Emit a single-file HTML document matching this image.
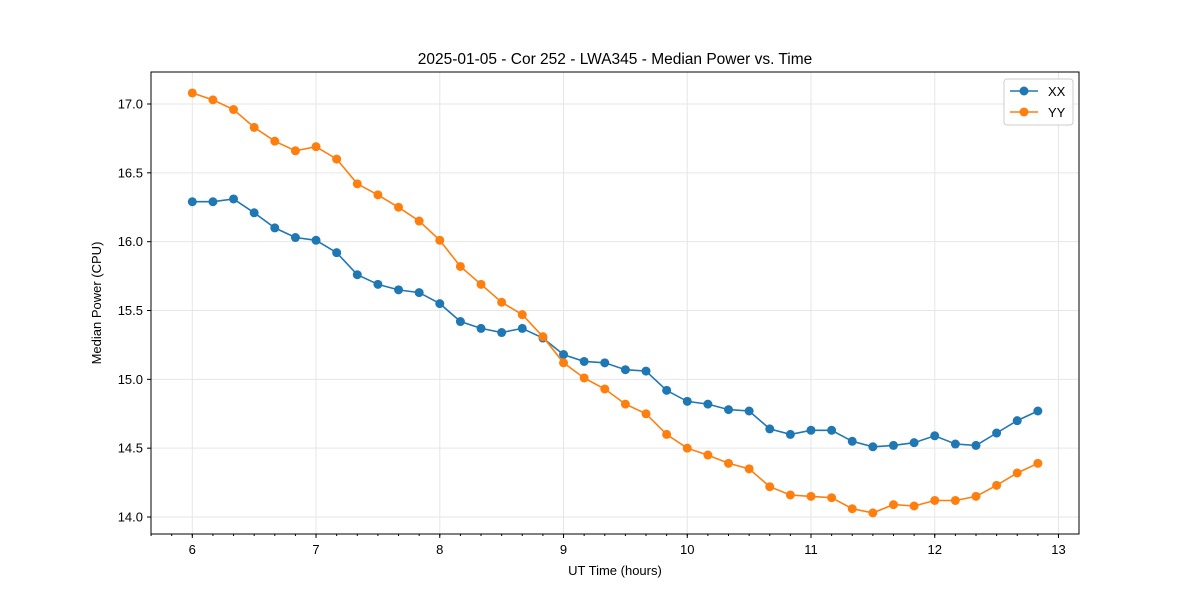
<!DOCTYPE html>
<html><head><meta charset="utf-8"><style>body{margin:0;background:#fff}svg{font-family:"Liberation Sans","DejaVu Sans",sans-serif}</style></head>
<body>
<svg id="c" width="1200" height="600"></svg>
<script>
const xxValues=[16.29,16.29,16.31,16.21,16.10,16.03,16.01,15.92,15.76,15.69,15.65,15.63,15.55,15.42,15.37,15.34,15.37,15.30,15.18,15.13,15.12,15.07,15.06,14.92,14.84,14.82,14.78,14.77,14.64,14.60,14.63,14.63,14.55,14.51,14.52,14.54,14.59,14.53,14.52,14.61,14.70,14.77];
const yyValues=[17.08,17.03,16.96,16.83,16.73,16.66,16.69,16.60,16.42,16.34,16.25,16.15,16.01,15.82,15.69,15.56,15.47,15.31,15.12,15.01,14.93,14.82,14.75,14.60,14.50,14.45,14.39,14.35,14.22,14.16,14.15,14.14,14.06,14.03,14.09,14.08,14.12,14.12,14.15,14.23,14.32,14.39];
const startHour=6, stepHour=1/6;
const xTicks=[6,7,8,9,10,11,12,13];
const yTicks=[14.0,14.5,15.0,15.5,16.0,16.5,17.0];
const L=151,R=1079,T=72,B=534;
const X=v=>192.3+(v-6)*123.74;
const Y=v=>104+(17-v)*137.67;
const s=document.getElementById('c'),NS='http://www.w3.org/2000/svg';
function add(tag,a,txt){const e=document.createElementNS(NS,tag);for(const k in a)e.setAttribute(k,a[k]);if(txt!=null)e.textContent=txt;s.appendChild(e);return e;}
xTicks.forEach(t=>{
 let g=add('line',{x1:X(t),x2:X(t),y1:T,y2:B,stroke:'#e6e6e6','stroke-width':1});
 
 let k=add('line',{x1:X(t),x2:X(t),y1:B,y2:B+4,stroke:'#000'});
 
 let l=add('text',{x:X(t),y:B+20,'text-anchor':'middle','font-size':13},String(t));
 
});
for(let m=5+4/6;m<13.2;m+=1/6){const px=X(m);if(px<L||px>R)continue;
 let k=add('line',{x1:px,x2:px,y1:B,y2:B+2,stroke:'#000'});
 }
yTicks.forEach(t=>{
 let g=add('line',{x1:L,x2:R,y1:Y(t),y2:Y(t),stroke:'#e6e6e6','stroke-width':1});
 
 let k=add('line',{x1:L-4,x2:L,y1:Y(t),y2:Y(t),stroke:'#000'});
 
 let l=add('text',{x:L-8,y:Y(t)+4.5,'text-anchor':'end','font-size':13},t.toFixed(1));
 
});
function series(vals,color,name){
 const pts=vals.map((v,i)=>X(startHour+i*stepHour).toFixed(1)+','+Y(v).toFixed(1)).join(' ');
 let p=add('polyline',{points:pts,fill:'none',stroke:color,'stroke-width':1.6});
 
 vals.forEach((v,i)=>{let c=add('circle',{cx:X(startHour+i*stepHour),cy:Y(v),r:4.5,fill:color});
 });
}
series(xxValues,'#1f77b4','xx');
series(yyValues,'#ff7f0e','yy');
let fr=add('rect',{x:L,y:T,width:R-L,height:B-T,fill:'none',stroke:'#000','stroke-width':1});

let ti=add('text',{x:615,y:64,'text-anchor':'middle','font-size':15.5},'2025-01-05 - Cor 252 - LWA345 - Median Power vs. Time');

let xt=add('text',{x:615,y:575,'text-anchor':'middle','font-size':13},'UT Time (hours)');

let yt=add('text',{x:101,y:303,'text-anchor':'middle','font-size':13,transform:'rotate(-90 101 303)'},'Median Power (CPU)');

let lg=add('rect',{x:1004,y:79,width:69,height:46,rx:3,fill:'#fff',stroke:'#ccc'});

[['XX','#1f77b4',91],['YY','#ff7f0e',112]].forEach(([n,c,y])=>{
 let l=add('line',{x1:1010,x2:1038,y1:y,y2:y,stroke:c,'stroke-width':1.6});
 
 let d=add('circle',{cx:1024,cy:y,r:4.5,fill:c});
 
 let t=add('text',{x:1048,y:y+5,'font-size':13},n);
 
});
</script>
</body></html>
